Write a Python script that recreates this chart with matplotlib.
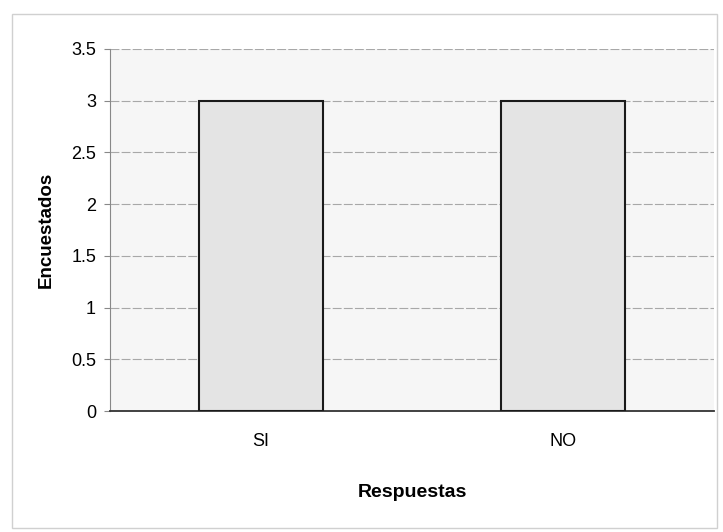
import matplotlib
matplotlib.use("Agg")
import matplotlib.pyplot as plt
from matplotlib.patches import Rectangle

categories = ["SI", "NO"]
encuestados = [3, 3]
y_ticks = [0, 0.5, 1, 1.5, 2, 2.5, 3, 3.5]
y_tick_labels = ["0", "0.5", "1", "1.5", "2", "2.5", "3", "3.5"]

plt.rcParams["font.family"] = ["Liberation Sans", "DejaVu Sans"]

fig = plt.figure(figsize=(7.23, 5.32), dpi=100)
fig.patch.set_facecolor("white")

# outer chart frame
fig.patches.append(Rectangle((0.017, 0.008), 0.975, 0.965, transform=fig.transFigure,
                             fill=False, edgecolor="#d0d0d0", linewidth=1.0))

ax = fig.add_axes([0.152, 0.2274, 0.836, 0.6806])
ax.set_facecolor("#f6f6f6")

x = range(len(categories))
ax.bar(x, encuestados, width=0.41, color="#e4e4e4", edgecolor="#1a1a1a",
       linewidth=1.5, zorder=3)

ax.set_xlim(-0.5, 1.5)
ax.set_ylim(0, 3.5)
ax.set_yticks(y_ticks)
ax.set_yticklabels(y_tick_labels)
ax.set_xticks(list(x))
ax.set_xticklabels(categories)

ax.yaxis.grid(True, color="#a8a8a8", linestyle=(0, (8, 2)), linewidth=0.8, zorder=0)
ax.set_axisbelow(True)

for side in ("top", "right"):
    ax.spines[side].set_visible(False)
ax.spines["left"].set_color("#888888")
ax.spines["bottom"].set_color("#333333")
ax.spines["bottom"].set_linewidth(1.3)

ax.tick_params(axis="y", length=4, color="#888888", labelsize=13, pad=6)
ax.tick_params(axis="x", length=0, labelsize=13, pad=16)

ax.set_ylabel("Encuestados", fontsize=13.5, fontweight="bold", labelpad=12)
ax.set_xlabel("Respuestas", fontsize=14, fontweight="bold", labelpad=24)

fig.savefig("out.png", dpi=100)
